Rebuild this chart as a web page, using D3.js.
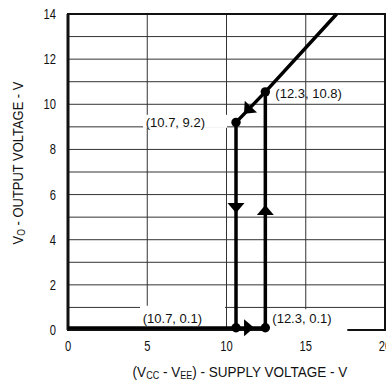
<!DOCTYPE html>
<html>
<head>
<meta charset="utf-8">
<script src="https://cdn.jsdelivr.net/npm/d3@7"></script>
<style>
  body { margin: 0; background: #fff; }
  svg { display: block; }
</style>
</head>
<body>
<svg id="chart"></svg>
<script>
// axis ticks and grid
const xTicks = [0, 5, 10, 15, 20];
const yTicks = [0, 2, 4, 6, 8, 10, 12, 14];
const xGrid = [5, 10, 15];
const yGrid = [1, 2, 3, 4, 5, 6, 7, 8, 9, 10, 11, 12, 13];

// hysteresis loop
const lowPath = [{ x: 0, y: 0.1 }, { x: 12.45, y: 0.1 }];
const fallPath = [{ x: 10.6, y: 9.2 }, { x: 10.6, y: 0.1 }];
const risePath = [{ x: 12.45, y: 0.1 }, { x: 12.45, y: 10.55 }];
const highPath = [{ x: 10.6, y: 9.2 }, { x: 12.45, y: 10.55 }, { x: 16.95, y: 14 }];

// marked points and their labels
const pointX = [10.6, 12.45, 10.6, 12.45];
const pointY = [9.2, 10.55, 0.1, 0.1];
const pointLabels = ['(10.7, 9.2)', '(12.3, 10.8)', '(10.7, 0.1)', '(12.3, 0.1)'];

// direction arrows (tip position, direction)
const arrows = [
  { x: 10.6, y: 5.18, dir: 'down' },
  { x: 12.45, y: 5.54, dir: 'up' },
  { x: 11.74, y: 0.1, dir: 'right' },
  { x: 11.1, y: 9.58, dir: 'back' },
];

const width = 386;
const height = 382;
const plot = { left: 68, right: 385, top: 14, bottom: 330 };

const svg = d3.select('#chart')
  .attr('width', width)
  .attr('height', height);

const x = d3.scaleLinear().domain([0, 20]).range([plot.left, plot.right]);
const y = d3.scaleLinear().domain([0, 14]).range([plot.bottom, plot.top]);

// no narrow face installed, so text gets squeezed horizontally
const font = '"Liberation Sans", Arial, sans-serif';
const squeeze = 0.8;

// grid
svg.append('g')
  .selectAll('line')
  .data(yGrid)
  .join('line')
  .attr('x1', plot.left)
  .attr('x2', plot.right)
  .attr('y1', d => y(d))
  .attr('y2', d => y(d))
  .attr('stroke', '#333')
  .attr('stroke-width', 1);

svg.append('g')
  .selectAll('line')
  .data(xGrid)
  .join('line')
  .attr('x1', d => x(d))
  .attr('x2', d => x(d))
  .attr('y1', plot.top)
  .attr('y2', plot.bottom)
  .attr('stroke', '#333')
  .attr('stroke-width', 1);

// frame
svg.append('rect')
  .attr('x', plot.left)
  .attr('y', plot.top)
  .attr('width', plot.right - plot.left)
  .attr('height', plot.bottom - plot.top)
  .attr('fill', 'none')
  .attr('stroke', '#111')
  .attr('stroke-width', 2);

svg.append('line')
  .attr('x1', plot.left)
  .attr('x2', plot.left)
  .attr('y1', plot.top)
  .attr('y2', plot.bottom)
  .attr('stroke', '#111')
  .attr('stroke-width', 3);

// white label boxes that cut the grid, offsets from their point
const boxes = [
  { i: 0, dx: -93, dy: -7.5, w: 84, h: 13 },
  { i: 2, dx: -96, dy: -22, w: 85, h: 21.5 },
  { i: 3, dx: 2, dy: -18.5, w: 80, h: 23 },
];

svg.append('g')
  .selectAll('rect')
  .data(boxes)
  .join('rect')
  .attr('x', d => x(pointX[d.i]) + d.dx)
  .attr('y', d => y(pointY[d.i]) + d.dy)
  .attr('width', d => d.w)
  .attr('height', d => d.h)
  .attr('fill', '#fff');

// tick labels
svg.append('g')
  .selectAll('text')
  .data(yTicks)
  .join('text')
  .attr('transform', d => `translate(56, ${y(d)}) scale(${squeeze}, 1)`)
  .attr('dy', '0.36em')
  .attr('text-anchor', 'end')
  .attr('font-family', font)
  .attr('font-size', 14)
  .attr('fill', '#111')
  .text(d => d);

svg.append('g')
  .selectAll('text')
  .data(xTicks)
  .join('text')
  .attr('transform', d => `translate(${x(d)}, 351) scale(${squeeze}, 1)`)
  .attr('text-anchor', 'middle')
  .attr('font-family', font)
  .attr('font-size', 14)
  .attr('fill', '#111')
  .text(d => d);

// axis titles
const xTitle = svg.append('text')
  .attr('text-anchor', 'middle')
  .attr('font-family', font)
  .attr('font-size', 15)
  .attr('fill', '#111');
xTitle.append('tspan').text('(V');
xTitle.append('tspan').attr('font-size', 10).attr('dy', 2).text('CC');
xTitle.append('tspan').attr('dy', -2).text(' - V');
xTitle.append('tspan').attr('font-size', 10).attr('dy', 2).text('EE');
xTitle.append('tspan').attr('dy', -2).text(') - SUPPLY VOLTAGE - V');
const xTitleScale = 215 / xTitle.node().getComputedTextLength();
xTitle.attr('transform', `translate(240, 377) scale(${xTitleScale}, 1)`);

const yTitle = svg.append('text')
  .attr('text-anchor', 'middle')
  .attr('font-family', font)
  .attr('font-size', 15)
  .attr('fill', '#111');
yTitle.append('tspan').text('V');
yTitle.append('tspan').attr('font-size', 10).attr('dy', 2).text('O');
yTitle.append('tspan').attr('dy', -2).text(' - OUTPUT VOLTAGE - V');
const yTitleScale = 163 / yTitle.node().getComputedTextLength();
yTitle.attr('transform', `translate(23, 163) rotate(-90) scale(${yTitleScale}, 1)`);

// loop lines
const line = d3.line()
  .x(d => x(d.x))
  .y(d => y(d.y));

svg.append('path')
  .datum(lowPath)
  .attr('d', line)
  .attr('fill', 'none')
  .attr('stroke', '#000')
  .attr('stroke-width', 3.2);

[fallPath, risePath, highPath].forEach((p) => {
  svg.append('path')
    .datum(p)
    .attr('d', line)
    .attr('fill', 'none')
    .attr('stroke', '#000')
    .attr('stroke-width', 3.5)
    .attr('stroke-linejoin', 'round');
});

// points
svg.append('g')
  .selectAll('circle')
  .data(pointX)
  .join('circle')
  .attr('cx', d => x(d))
  .attr('cy', (d, i) => y(pointY[i]))
  .attr('r', 4.7)
  .attr('fill', '#000');

// arrows, tip at the given spot
const backAngle = Math.atan2(
  y(highPath[0].y) - y(highPath[1].y),
  x(highPath[0].x) - x(highPath[1].x),
) * 180 / Math.PI;
const angles = { down: 90, up: -90, right: 0, back: backAngle };

svg.append('g')
  .selectAll('path')
  .data(arrows)
  .join('path')
  .attr('d', 'M0,0 L-10,-8.5 L-10,8.5 Z')
  .attr('transform', d => `translate(${x(d.x)}, ${y(d.y)}) rotate(${angles[d.dir]})`)
  .attr('fill', '#000');

// point labels
const labelPos = [
  { dx: -31, dy: 5, anchor: 'end' },
  { dx: 10, dy: 6, anchor: 'start' },
  { dx: -34, dy: -4.5, anchor: 'end' },
  { dx: 7, dy: -4.5, anchor: 'start' },
];

svg.append('g')
  .selectAll('text')
  .data(pointLabels)
  .join('text')
  .attr('x', (d, i) => x(pointX[i]) + labelPos[i].dx)
  .attr('y', (d, i) => y(pointY[i]) + labelPos[i].dy)
  .attr('text-anchor', (d, i) => labelPos[i].anchor)
  .attr('font-family', font)
  .attr('font-size', 13)
  .attr('fill', '#111')
  .text(d => d);
</script>
</body>
</html>
